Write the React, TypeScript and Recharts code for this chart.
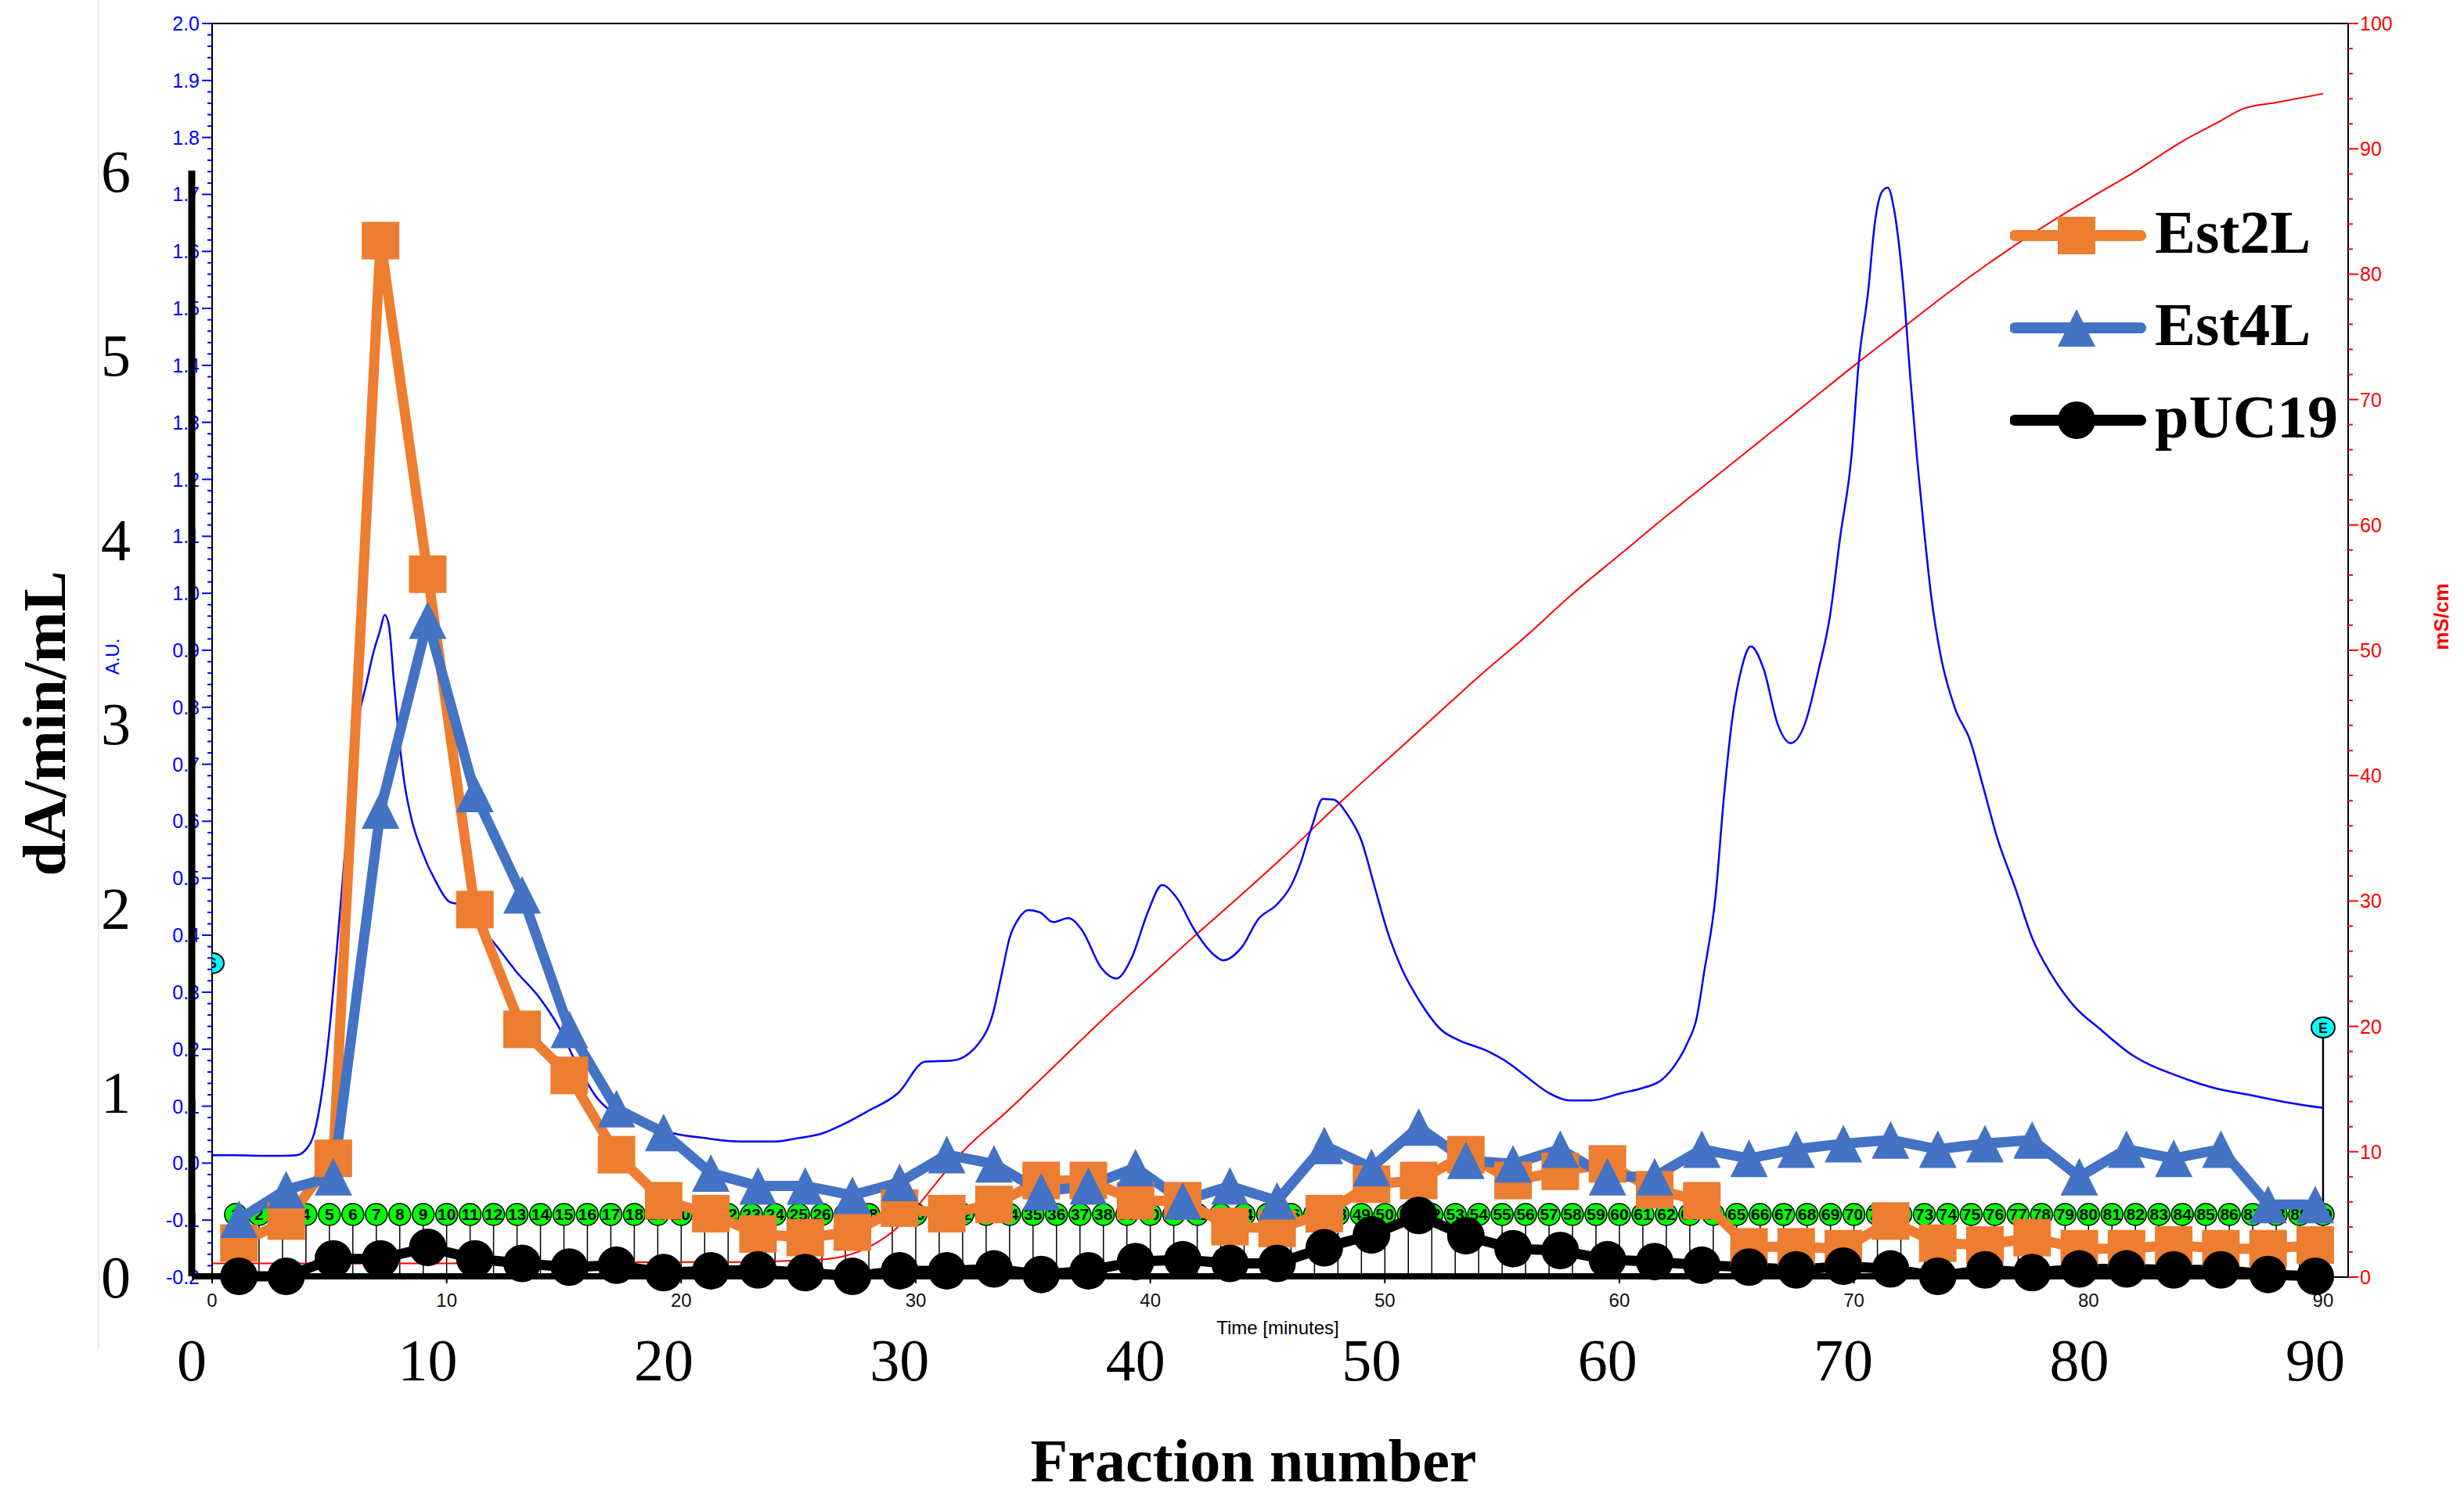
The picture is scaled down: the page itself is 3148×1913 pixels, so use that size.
import React from "react";
import {
  ComposedChart,
  LineChart,
  Line,
  Scatter,
  XAxis,
  YAxis,
  ReferenceLine,
  Legend,
  Label,
} from "recharts";

// Ion-exchange run: the UNICORN chromatogram (UV + conductivity + fraction
// marks) with the esterase activity of every second fraction drawn on top.

const W = 3148;
const H = 1913;

const ORANGE = "#ED7D31";
const BLUE = "#4472C4";
const UV_BLUE = "#0000FF";
const COND_RED = "#FF0000";
const SANS = "'Liberation Sans', Arial, sans-serif";
const SERIF = "'Liberation Serif', 'Times New Roman', serif";

// ---- chromatogram ---------------------------------------------------------
const T_MAX = 91.07;

const uvTime = [
  0, 1, 2, 3, 3.6, 4.0, 4.35, 4.65, 5.0, 5.3, 5.67, 5.97, 6.27, 6.57, 6.87, 7.16, 7.36, 7.54, 7.76,
  7.97, 8.2, 8.5, 8.94, 9.54, 10.14, 10.44, 11.04, 11.93, 12.97, 14.0, 14.75, 15.5, 16.4, 17.3,
  18.5, 19.7, 21.0, 22.5, 24.0, 25.0, 26.0, 27.0, 27.9, 29.25, 30.4, 31.55, 32.7, 33.3, 33.65,
  34.0, 34.4, 34.8, 35.3, 35.85, 36.5, 37.1, 37.9, 38.55, 39.2, 39.9, 40.5, 41.1, 41.9, 42.7,
  43.1, 43.9, 44.6, 45.4, 46.0, 46.4, 46.9, 47.35, 47.8, 48.4, 49.0, 49.55, 50.1, 50.7, 51.5,
  52.4, 53.2, 54.3, 55.3, 56.0, 57.0, 57.9, 58.75, 60.1, 61.0, 61.8, 62.4, 62.9, 63.3, 63.6, 64.1,
  64.45, 64.8, 65.2, 65.6, 66.15, 66.75, 67.3, 67.9, 68.5, 68.97, 69.4, 69.9, 70.2, 70.6, 70.9,
  71.2, 71.44, 71.7, 72.1, 72.4, 72.7, 73.0, 73.3, 73.7, 74.3, 74.95, 75.5, 76.1, 76.9, 77.6,
  78.4, 79.4, 80.5, 81.85, 83.8, 85.35, 86.95, 88.55, 90.0,
];
const uvAU = [
  0.014, 0.014, 0.013, 0.013, 0.014, 0.024, 0.052, 0.115, 0.233, 0.367, 0.548, 0.69, 0.785, 0.84,
  0.895, 0.935, 0.962, 0.943, 0.84, 0.745, 0.667, 0.604, 0.548, 0.494, 0.458, 0.455, 0.43, 0.391,
  0.336, 0.288, 0.241, 0.178, 0.115, 0.083, 0.068, 0.052, 0.044, 0.038, 0.038, 0.044, 0.052,
  0.07, 0.09, 0.123, 0.178, 0.18, 0.211, 0.264, 0.329, 0.395, 0.43, 0.444, 0.44, 0.423, 0.43,
  0.408, 0.343, 0.324, 0.36, 0.441, 0.488, 0.467, 0.408, 0.366, 0.356, 0.379, 0.428, 0.454,
  0.487, 0.526, 0.592, 0.639, 0.638, 0.612, 0.566, 0.487, 0.408, 0.343, 0.283, 0.234, 0.215,
  0.198, 0.175, 0.153, 0.123, 0.11, 0.11, 0.123, 0.132, 0.146, 0.174, 0.211, 0.256, 0.332, 0.469,
  0.64, 0.776, 0.867, 0.907, 0.867, 0.77, 0.737, 0.77, 0.867, 0.958, 1.095, 1.243, 1.403, 1.528,
  1.653, 1.705, 1.712, 1.676, 1.539, 1.38, 1.232, 1.106, 0.993, 0.89, 0.799, 0.742, 0.662, 0.572,
  0.48, 0.395, 0.332, 0.275, 0.235, 0.19, 0.153, 0.132, 0.119, 0.106, 0.097,
];

const condTime = [
  0, 10, 20, 23, 24.5, 26, 27, 28, 29, 30, 31, 32, 34, 36, 38, 40, 42, 44, 46, 48, 50, 52, 54, 56,
  58, 60, 62, 64, 66, 68, 70, 72, 74, 76, 78, 80, 82, 84, 85.5, 86.6, 88, 90,
];
const condMs = [
  1.1, 1.1, 1.2, 1.2, 1.3, 1.4, 1.7, 2.4, 3.6, 5.5, 7.8, 10.0, 13.4, 17.0, 20.6, 24.0, 27.4, 30.7,
  34.1, 37.7, 41.1, 44.5, 47.9, 51.1, 54.5, 57.6, 60.7, 63.7, 66.7, 69.7, 72.7, 75.6, 78.5, 81.2,
  83.7, 86.0, 88.2, 90.6, 92.1, 93.2, 93.7, 94.4,
];

// fraction collector marks, one per minute
const fractionNo = [
  1, 2, 3, 4, 5, 6, 7, 8, 9, 10, 11, 12, 13, 14, 15, 16, 17, 18, 19, 20, 21, 22, 23, 24, 25, 26,
  27, 28, 29, 30, 31, 32, 33, 34, 35, 36, 37, 38, 39, 40, 41, 42, 43, 44, 45, 46, 47, 48, 49, 50,
  51, 52, 53, 54, 55, 56, 57, 58, 59, 60, 61, 62, 63, 64, 65, 66, 67, 68, 69, 70, 71, 72, 73, 74,
  75, 76, 77, 78, 79, 80, 81, 82, 83, 84, 85, 86, 87, 88, 89, 90,
];
const FRACTION_ROW_AU = -0.09;

// run start / end events
const eventTime = [0, 90];
const eventAU = [0.351, 0.238];
const eventText = ["S", "E"];

const timeTicks = [0, 10, 20, 30, 40, 50, 60, 70, 80, 90];

// ---- activity overlay -------------------------------------------------------
const fraction = [
  2, 4, 6, 8, 10, 12, 14, 16, 18, 20, 22, 24, 26, 28, 30, 32, 34, 36, 38, 40, 42, 44, 46, 48, 50,
  52, 54, 56, 58, 60, 62, 64, 66, 68, 70, 72, 74, 76, 78, 80, 82, 84, 86, 88, 90,
];
const est2L = [
  0.18, 0.3, 0.64, 5.62, 3.81, 1.99, 1.34, 1.09, 0.66, 0.41, 0.34, 0.23, 0.21, 0.24, 0.37, 0.34,
  0.39, 0.52, 0.52, 0.41, 0.41, 0.27, 0.26, 0.34, 0.5, 0.52, 0.66, 0.52, 0.57, 0.61, 0.47, 0.41,
  0.16, 0.16, 0.15, 0.3, 0.18, 0.17, 0.21, 0.15, 0.15, 0.17, 0.15, 0.15, 0.17,
];
const est4L = [
  0.31, 0.47, 0.54, 2.53, 3.56, 2.62, 2.07, 1.34, 0.91, 0.78, 0.56, 0.49, 0.49, 0.44, 0.51, 0.66,
  0.61, 0.46, 0.49, 0.59, 0.41, 0.49, 0.41, 0.71, 0.59, 0.81, 0.63, 0.61, 0.69, 0.54, 0.54, 0.69,
  0.64, 0.69, 0.72, 0.74, 0.69, 0.72, 0.74, 0.54, 0.69, 0.64, 0.69, 0.39, 0.39,
];
const pUC19 = [
  0.0, 0.0, 0.095, 0.095, 0.157, 0.095, 0.07, 0.05, 0.06, 0.02, 0.03, 0.035, 0.02, 0.0, 0.03, 0.03,
  0.04, 0.01, 0.03, 0.08, 0.09, 0.07, 0.07, 0.155, 0.225, 0.33, 0.22, 0.15, 0.14, 0.09, 0.08, 0.06,
  0.05, 0.035, 0.055, 0.04, 0.0, 0.035, 0.02, 0.04, 0.04, 0.035, 0.035, 0.01, 0.0,
];
const fractionTicks = [0, 10, 20, 30, 40, 50, 60, 70, 80, 90];
const activityTicks = [0, 1, 2, 3, 4, 5, 6];

// ---- rows for recharts ----------------------------------------------------------
const uvRows = uvTime.map((t, i) => ({ t, au: uvAU[i] }));
const condRows = condTime.map((t, i) => ({ t, ms: condMs[i] }));
const fractionRows = fractionNo.map((n) => ({ t: n, y: FRACTION_ROW_AU, n }));
const eventRows = eventTime.map((t, i) => ({ t, y: eventAU[i], label: eventText[i] }));
const activityRows = fraction.map((f, i) => ({
  f,
  est2L: est2L[i],
  est4L: est4L[i],
  pUC19: pUC19[i],
}));

// axis ticks every 0.02 AU / 2 mS/cm, labelled every 0.1 / 10
const auTicks: number[] = [];
for (let k = -10; k <= 100; k++) auTicks.push(k / 50);
const msTicks: number[] = [];
for (let k = 0; k <= 50; k++) msTicks.push(k * 2);

const AU_TICK = 13;
const AU_GAP = 3;
const MS_TICK = 13;
const MS_GAP = 2;

function AuTick(props: any) {
  const { x, y, payload } = props;
  const v = payload.value as number;
  const major = Math.round(v * 50) % 5 === 0;
  const ax = x + AU_TICK + AU_GAP;
  return (
    <g>
      <line x1={ax - (major ? AU_TICK : 6)} x2={ax} y1={y} y2={y} stroke={UV_BLUE} strokeWidth={2} />
      {major && (
        <text x={x} y={y} dy="0.36em" textAnchor="end" fill={UV_BLUE} fontSize={25} fontFamily={SANS}>
          {v.toFixed(1)}
        </text>
      )}
    </g>
  );
}

function MsTick(props: any) {
  const { x, y, payload } = props;
  const v = payload.value as number;
  const major = v % 10 === 0;
  const ax = x - MS_TICK - MS_GAP;
  return (
    <g>
      <line x1={ax} x2={ax + (major ? MS_TICK : 6)} y1={y} y2={y} stroke={COND_RED} strokeWidth={2} />
      {major && (
        <text x={x} y={y} dy="0.36em" textAnchor="start" fill={COND_RED} fontSize={25} fontFamily={SANS}>
          {v}
        </text>
      )}
    </g>
  );
}

function FractionMark(props: any) {
  const { cx, cy, payload } = props;
  if (cx == null || cy == null) return <g />;
  return (
    <g>
      <circle cx={cx} cy={cy} r={14} fill="#00FF00" stroke="#000" strokeWidth={1.5} />
      <text
        x={cx}
        y={cy}
        dy="0.36em"
        textAnchor="middle"
        fontSize={21}
        fontWeight="bold"
        fontFamily={SANS}
        fill="#000"
      >
        {payload.n}
      </text>
    </g>
  );
}

function EventMark(props: any) {
  const { cx, cy, payload } = props;
  if (cx == null || cy == null) return <g />;
  return (
    <g>
      <ellipse cx={cx} cy={cy} rx={15} ry={13} fill="#00FFFF" stroke="#000" strokeWidth={2} />
      <text x={cx} y={cy} dy="0.36em" textAnchor="middle" fontSize={18} fontWeight="bold" fontFamily={SANS}>
        {payload.label}
      </text>
    </g>
  );
}

/** Rotated axis title centred on the axis box. */
function rotatedTitle(text: string, dx: number, dy: number, style: React.SVGProps<SVGTextElement>) {
  return (p: any) => {
    const vb = p.viewBox;
    const cx = vb.x + dx;
    const cy = vb.y + vb.height / 2 + dy;
    return (
      <text
        x={cx}
        y={cy}
        transform={`rotate(-90 ${cx} ${cy})`}
        textAnchor="middle"
        dominantBaseline="central"
        {...style}
      >
        {text}
      </text>
    );
  };
}

function timeTitle(p: any) {
  const vb = p.viewBox;
  return (
    <text x={vb.x + vb.width / 2 - 3} y={vb.y + 64} textAnchor="middle" dominantBaseline="central" fontSize={24} fontFamily={SANS} fill="#000">
      Time [minutes]
    </text>
  );
}

function fractionTitle(p: any) {
  const vb = p.viewBox;
  return (
    <text x={vb.x + vb.width / 2} y={vb.y + 262} textAnchor="middle" fontSize={78} fontWeight="bold" fontFamily={SERIF} fill="#000">
      Fraction number
    </text>
  );
}

// ---- activity markers -----------------------------------------------------------
const M = 24;
const squareDot = (p: any) =>
  p.cx == null ? <g key={`s${p.index}`} /> : (
    <rect key={`s${p.index}`} x={p.cx - M} y={p.cy - M} width={2 * M} height={2 * M} fill={ORANGE} />
  );
const triangleDot = (p: any) =>
  p.cx == null ? <g key={`t${p.index}`} /> : (
    <polygon
      key={`t${p.index}`}
      points={`${p.cx},${p.cy - M} ${p.cx - M},${p.cy + M} ${p.cx + M},${p.cy + M}`}
      fill={BLUE}
    />
  );
const circleDot = (p: any) =>
  p.cx == null ? <g key={`c${p.index}`} /> : <circle key={`c${p.index}`} cx={p.cx} cy={p.cy} r={M} fill="#000" />;

function legendMarker(key: string, x: number, y: number, color: string) {
  if (key === "est2L") return <rect x={x - M} y={y - M} width={2 * M} height={2 * M} fill={color} />;
  if (key === "est4L")
    return <polygon points={`${x},${y - M} ${x - M},${y + M} ${x + M},${y + M}`} fill={color} />;
  return <circle cx={x} cy={y} r={M} fill={color} />;
}

function ActivityLegend({ payload }: any) {
  const items = payload ?? [];
  return (
    <svg width={580} height={360}>
      {items.map((e: any, i: number) => {
        const cy = 60 + i * 118;
        return (
          <g key={e.value}>
            <line x1={6} x2={167} y1={cy} y2={cy} stroke={e.color} strokeWidth={14} strokeLinecap="round" />
            {legendMarker(e.dataKey, 85, cy, e.color)}
            <text x={185} y={cy + 22} fontSize={78} fontWeight="bold" fontFamily={SERIF} fill="#000">
              {e.value}
            </text>
          </g>
        );
      })}
    </svg>
  );
}

export default function App() {
  return (
    <div style={{ position: "absolute", left: 0, top: 0, width: W, height: H, background: "#fff" }}>
      {/* edge of the pasted chromatogram image */}
      <div style={{ position: "absolute", left: 125, top: 0, width: 2, height: 1725, background: "#ebebeb" }} />

      <div style={{ position: "absolute", left: 0, top: 0 }}>
        <ComposedChart width={W} height={H} margin={{ top: 30, right: 0, bottom: 0, left: 0 }}>
          <XAxis
            xAxisId="t"
            dataKey="t"
            type="number"
            domain={[0, T_MAX]}
            allowDataOverflow
            ticks={timeTicks}
            interval={0}
            height={281}
            tickSize={8}
            tickMargin={13}
            tickLine={{ stroke: "#000", strokeWidth: 2 }}
            axisLine={{ stroke: "#000", strokeWidth: 2 }}
            tick={{ fill: "#111", fontSize: 24, fontFamily: SANS }}
          >
            <Label content={timeTitle} />
          </XAxis>
          <YAxis
            yAxisId="au"
            orientation="left"
            type="number"
            width={271}
            domain={[-0.2, 2]}
            allowDataOverflow
            ticks={auTicks}
            interval={0}
            tickSize={AU_TICK}
            tickMargin={AU_GAP}
            tickLine={false}
            tick={AuTick}
            axisLine={{ stroke: "#000", strokeWidth: 2 }}
          >
            <Label content={rotatedTitle("A.U.", 143, 8, { fill: UV_BLUE, fontSize: 24, fontFamily: SANS })} />
          </YAxis>
          <YAxis
            yAxisId="ms"
            orientation="right"
            type="number"
            width={148}
            domain={[0, 100]}
            allowDataOverflow
            ticks={msTicks}
            interval={0}
            tickSize={MS_TICK}
            tickMargin={MS_GAP}
            tickLine={false}
            tick={MsTick}
            axisLine={{ stroke: "#000", strokeWidth: 2 }}
          >
            <Label
              content={rotatedTitle("mS/cm", 119, -43, {
                fill: COND_RED,
                fontSize: 26,
                fontWeight: "bold",
                fontFamily: SANS,
              })}
            />
          </YAxis>

          <ReferenceLine xAxisId="t" yAxisId="au" y={2} stroke="#000" strokeWidth={2} />
          {fractionNo.map((n) => (
            <ReferenceLine
              key={`stem${n}`}
              xAxisId="t"
              yAxisId="au"
              segment={[
                { x: n, y: -0.2 },
                { x: n, y: FRACTION_ROW_AU },
              ]}
              stroke="#000"
              strokeWidth={1.5}
            />
          ))}
          <ReferenceLine
            xAxisId="t"
            yAxisId="au"
            segment={[
              { x: eventTime[1], y: -0.2 },
              { x: eventTime[1], y: eventAU[1] },
            ]}
            stroke="#000"
            strokeWidth={2.5}
          />

          <Line
            data={condRows}
            xAxisId="t"
            yAxisId="ms"
            dataKey="ms"
            type="monotone"
            stroke={COND_RED}
            strokeWidth={2}
            dot={false}
            isAnimationActive={false}
          />
          <Line
            data={uvRows}
            xAxisId="t"
            yAxisId="au"
            dataKey="au"
            type="monotone"
            stroke={UV_BLUE}
            strokeWidth={2.5}
            dot={false}
            isAnimationActive={false}
          />
          <Scatter
            data={fractionRows}
            xAxisId="t"
            yAxisId="au"
            dataKey="y"
            shape={FractionMark}
            isAnimationActive={false}
          />
          <Scatter
            data={eventRows}
            xAxisId="t"
            yAxisId="au"
            dataKey="y"
            shape={EventMark}
            isAnimationActive={false}
          />
        </ComposedChart>
      </div>

      <div style={{ position: "absolute", left: 0, top: 0 }}>
        <LineChart width={W} height={H} data={activityRows} margin={{ top: 218, right: 190, bottom: 0, left: 0 }}>
          <XAxis
            dataKey="f"
            type="number"
            domain={[0, 90]}
            ticks={fractionTicks}
            interval={0}
            height={282}
            tickLine={false}
            tickSize={0}
            tickMargin={79}
            axisLine={{ stroke: "#000", strokeWidth: 8 }}
            tick={{ fill: "#000", fontSize: 76, fontFamily: SERIF }}
          >
            <Label content={fractionTitle} />
          </XAxis>
          <YAxis
            type="number"
            domain={[0, 6]}
            ticks={activityTicks}
            interval={0}
            width={245}
            tickLine={false}
            tickSize={0}
            tickMargin={78}
            axisLine={{ stroke: "#000", strokeWidth: 9 }}
            tick={{ fill: "#000", fontSize: 76, fontFamily: SERIF }}
          >
            <Label
              content={rotatedTitle("dA/min/mL", 56, 0, {
                fill: "#000",
                fontSize: 78,
                fontWeight: "bold",
                fontFamily: SERIF,
              })}
            />
          </YAxis>
          <Legend
            layout="vertical"
            align="center"
            verticalAlign="middle"
            wrapperStyle={{ left: 2568, top: 241, width: 580, height: 360 }}
            content={ActivityLegend}
          />
          <Line
            dataKey="est2L"
            name="Est2L"
            type="linear"
            stroke={ORANGE}
            strokeWidth={13}
            strokeLinejoin="round"
            dot={squareDot}
            isAnimationActive={false}
          />
          <Line
            dataKey="est4L"
            name="Est4L"
            type="linear"
            stroke={BLUE}
            strokeWidth={13}
            strokeLinejoin="round"
            dot={triangleDot}
            isAnimationActive={false}
          />
          <Line
            dataKey="pUC19"
            name="pUC19"
            type="linear"
            stroke="#000"
            strokeWidth={13}
            strokeLinejoin="round"
            dot={circleDot}
            isAnimationActive={false}
          />
        </LineChart>
      </div>
    </div>
  );
}
